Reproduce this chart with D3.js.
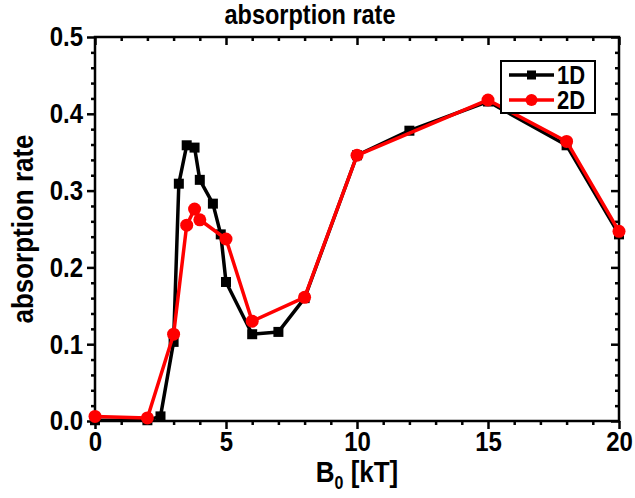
<!DOCTYPE html>
<html>
<head>
<meta charset="utf-8">
<script src="https://cdn.jsdelivr.net/npm/d3@7"></script>
<style>
  html, body { margin: 0; padding: 0; background: #fff; }
  svg { display: block; font-family: "Liberation Sans", Arial, sans-serif; font-weight: bold; }
  .tall { transform-box: fill-box; transform-origin: center; transform: scaleY(1.14); }
</style>
</head>
<body>
<svg id="chart" width="635" height="498"></svg>
<script>
// Absorption rate vs. magnetic field B0 for 1D and 2D simulations
const b1D = [0, 2, 2.5, 3, 3.2, 3.5, 3.8, 4, 4.5, 4.8, 5, 6, 7, 8, 10, 12, 15, 18, 20];
const rate1D = [0.001, 0.001, 0.006, 0.103, 0.309, 0.359, 0.356, 0.314, 0.283, 0.243, 0.181, 0.113, 0.116, 0.160, 0.346, 0.378, 0.416, 0.359, 0.243];

const b2D = [0, 2, 3, 3.5, 3.8, 4, 5, 6, 8, 10, 15, 18, 20];
const rate2D = [0.006, 0.004, 0.113, 0.255, 0.276, 0.262, 0.237, 0.130, 0.161, 0.346, 0.418, 0.364, 0.247];

const xTicks = [0, 5, 10, 15, 20];
const yTicks = [0.0, 0.1, 0.2, 0.3, 0.4, 0.5];
const seriesNames = ["1D", "2D"];
const seriesColors = ["#000000", "#ff0000"];

const svg = d3.select("#chart");
const mLeft = 95, mRight = 619, mTop = 37, mBottom = 421;

const x = d3.scaleLinear().domain([0, 20]).range([mLeft, mRight]);
const y = d3.scaleLinear().domain([0, 0.5]).range([mBottom, mTop]);

const xMinor = d3.range(0, 21, 1).filter(v => v % 5);
const yMinor = d3.range(0, 26, 1).filter(i => i % 5).map(i => i * 0.02);

// Frame
svg.append("rect")
  .attr("x", mLeft).attr("y", mTop)
  .attr("width", mRight - mLeft).attr("height", mBottom - mTop)
  .attr("fill", "none").attr("stroke", "#000").attr("stroke-width", 2.5);

function addAxis(axisFn, scale, values, size, pos, fmt) {
  const g = svg.append("g").attr("transform", pos)
    .call(axisFn(scale).tickValues(values).tickSize(size).tickPadding(4).tickFormat(fmt || ""));
  g.select(".domain").remove();
  return g;
}

// Bottom and left: ticks outward, with labels
addAxis(d3.axisBottom, x, xTicks, 8, `translate(0,${mBottom})`, d3.format("d"));
addAxis(d3.axisBottom, x, xMinor, 4, `translate(0,${mBottom})`);
addAxis(d3.axisLeft, y, yTicks, 8, `translate(${mLeft},0)`, d3.format(".1f"));
addAxis(d3.axisLeft, y, yMinor, 4, `translate(${mLeft},0)`);

// Top and right: mirrored ticks pointing inward
addAxis(d3.axisBottom, x, xTicks, 8, `translate(0,${mTop})`);
addAxis(d3.axisBottom, x, xMinor, 4, `translate(0,${mTop})`);
addAxis(d3.axisLeft, y, yTicks, 8, `translate(${mRight},0)`);
addAxis(d3.axisLeft, y, yMinor, 4, `translate(${mRight},0)`);

svg.selectAll(".tick line").attr("stroke", "#000").attr("stroke-width", 2.5);
svg.selectAll(".tick text")
  .attr("class", "tall")
  .attr("font-family", "Liberation Sans, Arial, sans-serif")
  .attr("font-weight", "bold").attr("font-size", 24).attr("fill", "#000");

// Titles
svg.append("text").attr("class", "tall").attr("x", 310).attr("y", 23).attr("text-anchor", "middle")
  .attr("font-size", 23.5).text("absorption rate");

const xl = svg.append("text").attr("class", "tall").attr("x", (mLeft + mRight) / 2).attr("y", 481)
  .attr("text-anchor", "middle").attr("font-size", 26);
xl.append("tspan").text("B");
xl.append("tspan").attr("font-size", 16).attr("dy", 6).text("0");
xl.append("tspan").attr("dy", -6).text(" [kT]");

svg.append("g")
  .attr("transform", `translate(32,${(mTop + mBottom) / 2}) rotate(-90)`)
  .append("text").attr("class", "tall")
  .attr("text-anchor", "middle").attr("font-size", 26).text("absorption rate");

// Series
const line = d3.line().x(d => x(d[0])).y(d => y(d[1]));
const data1D = b1D.map((b, i) => [b, rate1D[i]]);
const data2D = b2D.map((b, i) => [b, rate2D[i]]);

const plot = svg.append("g");
plot.append("path").datum(data1D).attr("d", line)
  .attr("fill", "none").attr("stroke", seriesColors[0]).attr("stroke-width", 3.5)
  .attr("stroke-linejoin", "round");
plot.selectAll(".sq").data(data1D).join("rect")
  .attr("x", d => x(d[0]) - 5).attr("y", d => y(d[1]) - 5)
  .attr("width", 10).attr("height", 10).attr("fill", seriesColors[0]);

plot.append("path").datum(data2D).attr("d", line)
  .attr("fill", "none").attr("stroke", seriesColors[1]).attr("stroke-width", 3.5)
  .attr("stroke-linejoin", "round");
plot.selectAll(".ci").data(data2D).join("circle")
  .attr("cx", d => x(d[0])).attr("cy", d => y(d[1])).attr("r", 6.5)
  .attr("fill", seriesColors[1]);

// Legend
const lg = svg.append("g");
lg.append("rect").attr("x", 501).attr("y", 61).attr("width", 94).attr("height", 52)
  .attr("fill", "#fff").attr("stroke", "#000").attr("stroke-width", 2);
seriesNames.forEach((name, i) => {
  const yy = 75 + i * 25;
  lg.append("line").attr("x1", 509).attr("x2", 554).attr("y1", yy).attr("y2", yy)
    .attr("stroke", seriesColors[i]).attr("stroke-width", 3.5);
  if (i === 0) {
    lg.append("rect").attr("x", 527).attr("y", yy - 4.5).attr("width", 9).attr("height", 9)
      .attr("fill", seriesColors[i]);
  } else {
    lg.append("circle").attr("cx", 531.5).attr("cy", yy).attr("r", 6).attr("fill", seriesColors[i]);
  }
  lg.append("text").attr("class", "tall").attr("x", 557).attr("y", yy + 8)
    .attr("font-size", 22).text(name);
});
</script>
</body>
</html>
